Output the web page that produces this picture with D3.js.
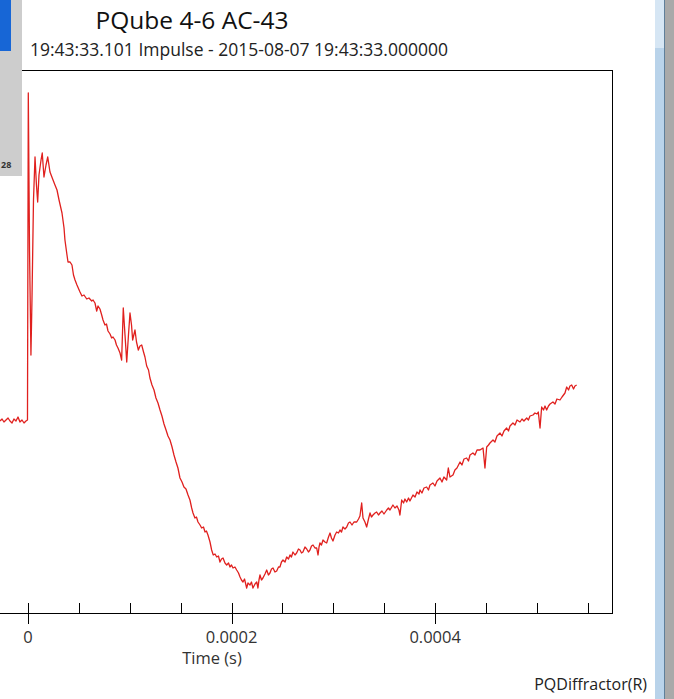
<!DOCTYPE html>
<html>
<head>
<meta charset="utf-8">
<script src="https://cdn.jsdelivr.net/npm/d3@7"></script>
<style>
  body{margin:0;background:#fff;overflow:hidden;}
  text{font-family:"Open Sans","Noto Sans",sans-serif;}
</style>
</head>
<body>
<script>
// Impulse capture: time in microseconds, value relative to pre-trigger level
const timeUs=[-27.5,-25.5,-23.6,-21.6,-19.6,-17.7,-15.7,-13.8,-11.8,-9.8,-7.9,-5.9,-3.9,-2.0,-0.5,
0.3,1.5,2.9,3.9,5.4,6.9,8.3,9.5,10.8,12.8,14.0,15.7,17.7,19.4,21.6,24.6,26.5,28.5,30.5,33.4,35.4,36.3,38.3,39.3,41.3,43.2,44.7,46.2,48.1,
51.1,53.0,55.0,57.7,59.9,62.6,63.9,65.8,67.5,68.8,70.7,72.4,73.7,75.6,77.1,78.6,80.6,82.2,83.5,85.5,86.9,88.4,90.4,92.0,93.6,95.3,97.0,98.7,
100.2,101.7,102.8,105.1,106.6,108.4,110.0,111.7,113.5,114.9,116.6,118.4,119.8,121.8,123.8,125.7,127.7,129.7,131.6,133.6,135.6,137.5,139.5,
141.5,143.4,145.4,147.3,149.3,151.3,153.2,155.2,157.2,159.1,160.8,162.1,164.0,165.5,167.0,169.0,170.6,172.4,173.9,175.3,176.8,178.8,180.4,
182.0,183.7,185.4,187.1,188.6,190.1,191.6,193.5,195.2,197.0,198.4,199.9,201.4,203.3,205.0,206.8,208.3,209.7,211.2,212.7,214.8,216.1,218.1,
219.5,221.0,223.0,224.7,225.9,226.9,227.9,229.4,230.8,232.8,234.5,236.2,237.7,239.2,240.7,242.6,244.3,246.1,247.5,249.0,250.5,252.5,254.1,
255.9,257.4,258.8,260.3,262.3,263.9,265.7,267.2,268.7,270.1,272.1,273.8,275.5,277.0,278.5,280.0,281.9,283.6,284.9,285.9,286.8,288.3,289.8,
291.7,293.4,295.2,296.7,298.1,299.6,301.6,303.2,305.0,306.5,308.0,309.4,311.4,313.1,314.8,316.3,318.3,320.2,322.9,324.7,326.1,327.8,329.1,
331.0,332.7,334.5,336.0,337.4,338.9,340.9,342.5,344.3,345.8,347.7,349.7,352.4,354.1,355.6,358.5,360.5,362.5,364.4,365.4,367.1,368.9,370.3,
372.0,373.8,375.2,378.2,380.2,382.1,384.1,385.1,387.0,389.0,391.6,393.4,394.9,397.8,399.8,401.8,404.7,406.7,408.6,411.3,412.9,414.5,417.5,
419.4,421.4,424.4,426.3,428.3,430.9,432.7,434.2,437.1,439.1,441.1,444.0,447.0,448.9,450.6,452.4,453.8,456.8,458.7,460.7,463.7,465.6,467.6,
470.2,472.0,473.5,476.4,478.4,480.4,483.3,485.3,487.2,489.9,491.6,493.1,496.1,498.0,500.0,501.3,503.0,504.6,506.4,507.9,509.5,511.3,512.8,
515.7,517.7,519.6,522.6,524.6,527.5,529.2,531.0,532.4,534.1,535.9,537.3,539.0];
const volts=[-1,1,-2,0,2,-1,-3,1,-1,3,-2,0,-3,-1,0,
327,170,65,120,220,263,235,218,245,260,267,243,255,263,248,240,235,230,220,207,192,180,165,158,158,155,145,140,135,
128,124,125,121,122,119,120,117,109,114,111,105,100,95,96,89,86,82,83,80,75,72,67,60,112,85,58,85,
107,95,80,90,78,70,74,75,68,63,54,50,42,35,30,22,17,10,4,-4,-10,-16,-20,
-27,-35,-42,-48,-58,-62,-67,-69,-75,-80,-88,-93,-98,-97,-102,-105,-108,-107,-112,-111,-115,-122,-130,
-135,-134,-137,-136,-142,-139,-138,-143,-145,-143,-147,-145,-148,-147,-150,-153,-157,-160,-162,-159,-168,-163,-165,
-162,-168,-164,-162,-168,-160,-155,-160,-158,-154,-150,-155,-153,-149,-148,-152,-151,-147,-147,-142,-140,-142,-137,
-139,-135,-137,-132,-135,-133,-129,-130,-133,-132,-127,-129,-132,-130,-126,-125,-128,-128,-135,-127,-123,-125,-120,
-122,-123,-117,-113,-118,-121,-115,-112,-113,-110,-112,-107,-109,-107,-103,-102,-105,-102,-102,-99,-96,-83,-98,
-102,-107,-99,-93,-97,-95,-93,-92,-95,-93,-91,-94,-90,-88,-90,-85,-88,-86,-90,-95,-80,-83,-79,
-82,-78,-81,-75,-77,-72,-74,-70,-73,-68,-67,-70,-65,-63,-66,-61,-58,-62,-57,-60,-48,-57,-55,
-50,-48,-42,-45,-39,-38,-41,-35,-33,-35,-30,-30,-28,-48,-27,-25,-23,-20,-22,-16,-13,-16,-11,
-8,-11,-6,-3,-5,0,-2,1,-1,2,0,4,5,7,6,8,-8,13,10,14,10,14,16,
18,16,21,20,23,27,33,30,34,35,31,34,35];

const majorTicks=[0,0.0002,0.0004];
const minorTicks=[0.00005,0.0001,0.00015,0.00025,0.0003,0.00035,0.00045,0.0005,0.00055];
const title="PQube 4-6 AC-43";
const subtitle="19:43:33.101 Impulse - 2015-08-07 19:43:33.000000";
const xLabel="Time (s)";
const footer="PQDiffractor(R)";

const w=674,h=699;
const plotRight=612,plotTop=70,plotBottom=613;

const svg=d3.select('body').append('svg').attr('width',w).attr('height',h);

const xScale=d3.scaleLinear().domain([-0.0000275,0.0005737]).range([0,plotRight]);
const yScale=d3.scaleLinear().domain([-193,350]).range([plotBottom,plotTop]);

// window chrome on the right
svg.append('rect').attr('x',655).attr('y',0).attr('width',9).attr('height',h).attr('fill','#b9d3ea');
svg.append('rect').attr('x',655).attr('y',0).attr('width',9).attr('height',48).attr('fill','#d6e6f4');
svg.append('rect').attr('x',664).attr('y',0).attr('width',1).attr('height',h).attr('fill','#5f7f9a');
svg.append('rect').attr('x',665).attr('y',0).attr('width',9).attr('height',h).attr('fill','#a9a9a9');

// plot frame
svg.append('line').attr('x1',0).attr('x2',plotRight).attr('y1',plotTop+0.5).attr('y2',plotTop+0.5).attr('stroke','#000');
svg.append('line').attr('x1',plotRight+0.5).attr('x2',plotRight+0.5).attr('y1',plotTop).attr('y2',plotBottom).attr('stroke','#000');

// trace
const pts=timeUs.map((t,i)=>[t*1e-6,volts[i]]);
const line=d3.line().x(d=>xScale(d[0])).y(d=>yScale(d[1]));
svg.append('path').datum(pts).attr('d',line).attr('fill','none')
.attr('stroke','#e0201e').attr('stroke-width',1.3).attr('stroke-linejoin','round');

// x axis with long major ticks and short inward minor ticks
const axisG=svg.append('g').attr('id','x-axis');
axisG.append('line').attr('x1',0).attr('x2',plotRight+1).attr('y1',plotBottom+0.5).attr('y2',plotBottom+0.5).attr('stroke','#000');
axisG.selectAll('.minor').data(minorTicks).enter().append('line').attr('class','minor')
.attr('x1',d=>Math.round(xScale(d))+0.5).attr('x2',d=>Math.round(xScale(d))+0.5)
.attr('y1',plotBottom-10).attr('y2',plotBottom).attr('stroke','#000');
axisG.selectAll('.major').data(majorTicks).enter().append('line').attr('class','major')
.attr('x1',d=>Math.round(xScale(d))+0.5).attr('x2',d=>Math.round(xScale(d))+0.5)
.attr('y1',plotBottom-10).attr('y2',plotBottom+11).attr('stroke','#000');
const fmt=d=>d===0?"0":d.toFixed(4);
axisG.selectAll('.lbl').data(majorTicks).enter().append('text').attr('class','lbl')
.attr('x',d=>xScale(d)).attr('y',643).attr('text-anchor','middle')
.attr('font-size',16.5).attr('fill','#333').text(fmt);
svg.append('text').attr('x',212).attr('y',664).attr('text-anchor','middle')
.attr('font-size',16.5).attr('fill','#333').text(xLabel);

// titles
svg.append('text').attr('x',192).attr('y',29).attr('text-anchor','middle')
.attr('font-size',24.5).attr('fill','#111').text(title);
svg.append('text').attr('x',30).attr('y',56)
.attr('font-size',17.5).attr('fill','#222').text(subtitle);
svg.append('text').attr('x',647).attr('y',690).attr('text-anchor','end')
.attr('font-size',16).attr('fill','#222').text(footer);

// side panel peeking in on the left
svg.append('rect').attr('x',0).attr('y',0).attr('width',22).attr('height',176).attr('fill','#cdcdcd');
svg.append('rect').attr('x',0).attr('y',0).attr('width',11).attr('height',51).attr('fill','#1766d6');
svg.append('text').attr('x',1).attr('y',168).attr('font-size',9).attr('font-weight','bold').attr('fill','#333').text("28");
</script>
</body>
</html>
